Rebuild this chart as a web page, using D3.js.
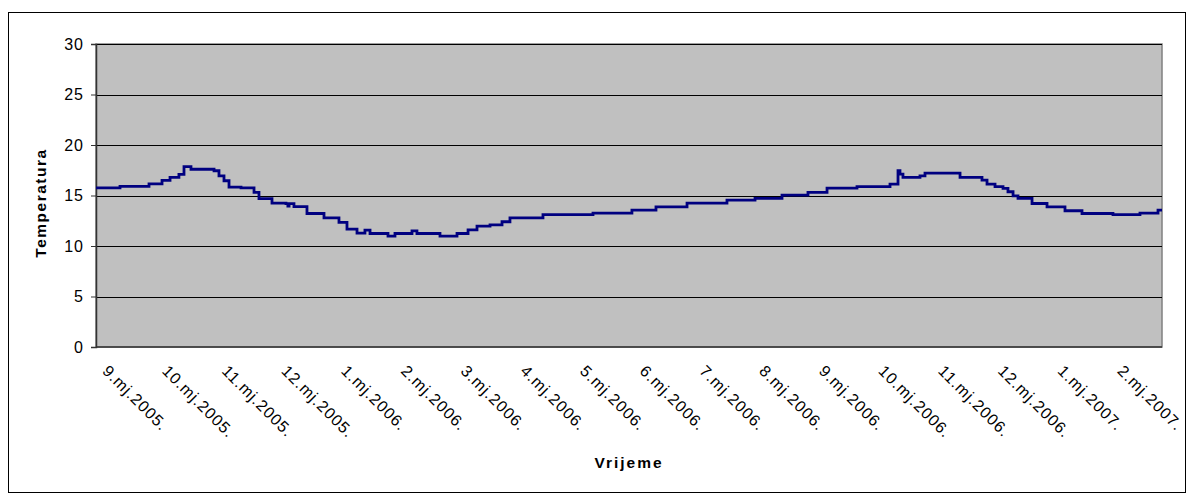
<!DOCTYPE html>
<html><head><meta charset="utf-8">
<script src="https://cdn.jsdelivr.net/npm/d3@7"></script>
<style>
html,body{margin:0;padding:0;background:#fff;}
svg{display:block;font-family:"Liberation Sans",Arial,sans-serif;}
</style></head>
<body><svg id="c" width="1193" height="493"></svg>
<script>
// ---- data ----
const monthLabels = ["9.mj.2005.","10.mj.2005.","11.mj.2005.","12.mj.2005.","1.mj.2006.","2.mj.2006.","3.mj.2006.","4.mj.2006.","5.mj.2006.","6.mj.2006.","7.mj.2006.","8.mj.2006.","9.mj.2006.","10.mj.2006.","11.mj.2006.","12.mj.2006.","1.mj.2007.","2.mj.2007."];
const yTicks = [0,5,10,15,20,25,30];
// last month shown is partial: series ends at this month position
const seriesEnd = 17.856;
// time position in months since start of 9.mj.2005.
const monthPos = [0,0.402,0.888,1.106,1.240,1.389,1.474,1.591,1.977,2.060,2.144,2.228,2.429,2.647,2.730,2.948,3.182,3.214,3.234,3.316,3.534,3.819,4.070,4.204,4.372,4.505,4.590,4.891,5.008,5.293,5.376,5.762,6.047,6.232,6.382,6.600,6.801,6.934,7.487,8.325,8.977,9.380,9.900,10.569,11.039,11.491,11.926,12.245,12.747,13.300,13.434,13.467,13.517,13.802,13.886,14.473,14.841,14.925,15.059,15.193,15.276,15.361,15.444,15.679,15.930,16.231,16.516,16.684,17.035,17.487,17.789,17.856];
const temps = [15.76,15.9,16.16,16.5,16.8,17.1,17.85,17.6,17.45,16.95,16.46,15.83,15.76,15.3,14.7,14.25,14.2,13.95,14.2,13.9,13.22,12.79,12.33,11.67,11.27,11.57,11.24,10.97,11.24,11.5,11.24,10.97,11.24,11.6,11.96,12.1,12.4,12.78,13.1,13.26,13.55,13.88,14.25,14.54,14.71,15.04,15.3,15.73,15.87,16.13,17.45,17.12,16.8,16.95,17.22,16.8,16.53,16.13,15.87,15.7,15.37,14.97,14.71,14.21,13.88,13.49,13.22,13.22,13.1,13.26,13.55,13.55];

// ---- layout ----
const svg = d3.select("#c");
const L = 96, R = 1162, T = 44, B = 347;
const x = d3.scaleLinear().domain([0, seriesEnd]).range([L, R]);
const y = d3.scaleLinear().domain([0, 30]).range([B, T]);

svg.append("rect").attr("x",8.5).attr("y",12.5).attr("width",1177).attr("height",480)
  .attr("fill","#fff").attr("stroke","#000").attr("stroke-width",1);

svg.append("rect").attr("x",L).attr("y",T).attr("width",R-L).attr("height",B-T)
  .attr("fill","#C0C0C0").attr("stroke","#808080").attr("stroke-width",1.5);

// gridlines
svg.append("g").selectAll("line").data(yTicks.filter(d=>d>0)).join("line")
  .attr("x1",L).attr("x2",R).attr("y1",d=>Math.round(y(d))+0.5).attr("y2",d=>Math.round(y(d))+0.5)
  .attr("stroke","#000").attr("stroke-width",1);

// y axis
const yAxis = d3.axisLeft(y).tickValues(yTicks).tickSize(5).tickPadding(8);
const gy = svg.append("g").attr("transform",`translate(${L},0)`).call(yAxis);
gy.select(".domain").attr("stroke","#333").attr("stroke-width",1.5);
gy.selectAll(".tick line").attr("stroke","#333");
gy.selectAll(".tick text").attr("font-size","16px").attr("fill","#000")
  .attr("font-family","Liberation Sans, Arial, sans-serif").style("letter-spacing","1px").attr("dx","1");

// x axis baseline
svg.append("line").attr("x1",L).attr("x2",R).attr("y1",B).attr("y2",B).attr("stroke","#333").attr("stroke-width",1.5);

// x labels
const xAxis = d3.axisBottom(x).tickValues(d3.range(monthLabels.length)).tickSize(0).tickFormat(i=>monthLabels[i]);
const gx = svg.append("g").attr("transform",`translate(0,${B})`).call(xAxis);
gx.select(".domain").remove();
gx.selectAll(".tick text").attr("font-size","16px").attr("fill","#000")
  .attr("font-family","Liberation Sans, Arial, sans-serif").style("letter-spacing","1px")
  .attr("text-anchor","start").attr("dy",null).attr("y",null)
  .attr("transform","translate(5,25) rotate(45)");

// line
const pts = monthPos.map((m,i)=>[m,temps[i]]);
svg.append("path").datum(pts)
  .attr("d", d3.line().x(d=>x(d[0])).y(d=>y(d[1])).curve(d3.curveStepAfter))
  .attr("fill","none").attr("stroke","#000080").attr("stroke-width",2.8);

// titles
svg.append("text").attr("x",629).attr("y",468).attr("text-anchor","middle")
  .attr("font-size","15.5px").attr("font-weight","bold").style("letter-spacing","2px").text("Vrijeme");
svg.append("text").attr("transform","translate(46,203) rotate(-90)").attr("text-anchor","middle")
  .attr("font-size","15.5px").attr("font-weight","bold").style("letter-spacing","1.5px").text("Temperatura");
</script>
</body></html>
